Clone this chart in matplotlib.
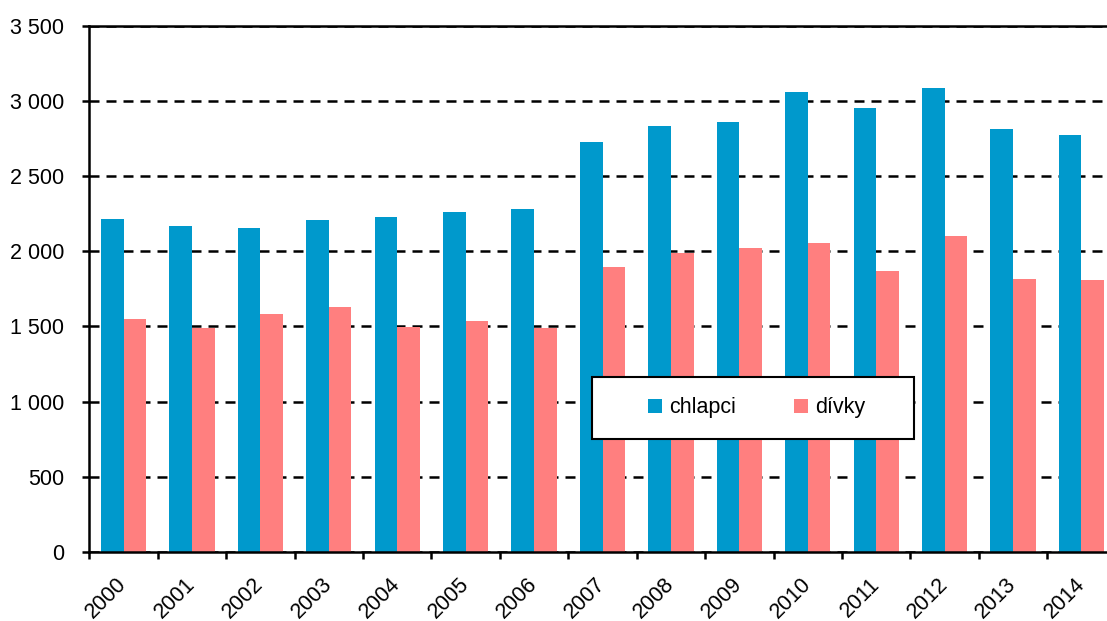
import matplotlib
matplotlib.use('Agg')
import matplotlib.pyplot as plt
from matplotlib.patches import Rectangle
from matplotlib.ticker import FuncFormatter, FixedLocator
import numpy as np

plt.rcParams['font.family'] = ['Liberation Sans', 'DejaVu Sans']

years = ['2000', '2001', '2002', '2003', '2004', '2005', '2006', '2007',
         '2008', '2009', '2010', '2011', '2012', '2013', '2014']
chlapci = [2212, 2167, 2154, 2205, 2229, 2261, 2281, 2726,
           2832, 2861, 3056, 2952, 3083, 2812, 2773]
divky = [1551, 1492, 1580, 1631, 1496, 1536, 1487, 1897,
         1988, 2023, 2052, 1868, 2099, 1813, 1811]
y_ticks = [0, 500, 1000, 1500, 2000, 2500, 3000, 3500]

blue = '#0099cc'
pink = '#ff7f7f'
tick_size = 15.5
lw = 1.8

W, H = 1107, 621
fig = plt.figure(figsize=(W / 100, H / 100), dpi=100)
ax = fig.add_axes([89.3 / W, 69 / H, 1026.4 / W, 526.5 / H])

x = np.arange(len(years))
width = 0.33
ax.bar(x - width / 2, chlapci, width, color=blue, label='chlapci', zorder=2)
ax.bar(x + width / 2, divky, width, color=pink, label='dívky', zorder=2)

ax.set_xlim(-0.5, len(years) - 0.5)
ax.set_ylim(0, 3500)
ax.set_yticks(y_ticks)
ax.yaxis.set_major_formatter(FuncFormatter(lambda v, p: f"{int(v):,}".replace(',', ' ')))

# dashed grid, bars on top
ax.set_axisbelow(True)
ax.yaxis.grid(True, color='black', linewidth=lw, linestyle=(0, (4, 2.8)))
ax.xaxis.grid(False)

# year labels at centres, tick marks at category boundaries
ax.set_xticks(x)
ax.set_xticklabels(years, rotation=45, ha='right', va='center', rotation_mode='anchor')
ax.xaxis.set_minor_locator(FixedLocator(np.arange(-0.5, len(years), 1.0)))
ax.tick_params(axis='x', which='major', length=0, pad=21, labelsize=tick_size)
ax.tick_params(axis='x', which='minor', length=5, width=lw, direction='out')
ax.tick_params(axis='y', length=5, width=lw, direction='out', pad=13, labelsize=tick_size)

for side in ['left', 'bottom', 'top']:
    ax.spines[side].set_linewidth(lw)
ax.spines['right'].set_visible(False)

# legend box
box_l, box_t, box_r, box_b = 591.7, 376.7, 914.3, 439
ax.add_patch(Rectangle((box_l / W, 1 - box_b / H), (box_r - box_l) / W, (box_b - box_t) / H,
                       transform=fig.transFigure, facecolor='white', edgecolor='black',
                       linewidth=1.5, zorder=5, clip_on=False))
leg = ax.legend(loc='center', bbox_to_anchor=(757 / W, 1 - 408 / H), bbox_transform=fig.transFigure,
                ncol=2, frameon=False, fontsize=15.5, handlelength=0.65, handleheight=0.65,
                handletextpad=0.33, columnspacing=2.7)
leg.set_zorder(6)

plt.savefig('out.png', dpi=100)
plt.close()
